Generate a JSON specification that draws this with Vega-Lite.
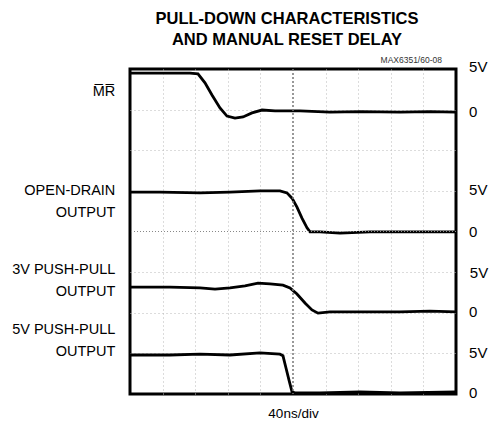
{
  "$schema": "https://vega.github.io/schema/vega-lite/v6.json",
  "width": 326,
  "height": 325,
  "autosize": {"type": "none"},
  "padding": {"left": 130, "top": 69, "right": 33, "bottom": 38},
  "background": "white",
  "config": {
    "view": {"stroke": "black", "strokeWidth": 3},
    "font": "Liberation Sans, Arial, sans-serif"
  },
  "title": {
    "text": ["PULL-DOWN CHARACTERISTICS", "AND MANUAL RESET DELAY"],
    "fontSize": 16.5,
    "fontWeight": "bold",
    "font": "Liberation Sans, Arial, sans-serif",
    "color": "black",
    "anchor": "middle",
    "lineHeight": 21,
    "offset": 8,
    "dx": -6
  },
  "datasets": {
    "traces": [
      {"trace": "MR", "t": 0, "v": 7.9},
      {"trace": "MR", "t": 36.8, "v": 7.9},
      {"trace": "MR", "t": 73.6, "v": 7.9},
      {"trace": "MR", "t": 83.4, "v": 7.88},
      {"trace": "MR", "t": 92, "v": 7.66},
      {"trace": "MR", "t": 100.6, "v": 7.36},
      {"trace": "MR", "t": 110.4, "v": 7.04},
      {"trace": "MR", "t": 119, "v": 6.84},
      {"trace": "MR", "t": 128.8, "v": 6.79},
      {"trace": "MR", "t": 138.7, "v": 6.82},
      {"trace": "MR", "t": 149.7, "v": 6.92},
      {"trace": "MR", "t": 162, "v": 6.99},
      {"trace": "MR", "t": 178, "v": 6.97},
      {"trace": "MR", "t": 208.6, "v": 6.97},
      {"trace": "MR", "t": 245.4, "v": 6.94},
      {"trace": "MR", "t": 282.2, "v": 6.95},
      {"trace": "MR", "t": 331.3, "v": 6.94},
      {"trace": "MR", "t": 368, "v": 6.95},
      {"trace": "MR", "t": 400, "v": 6.94},
      {"trace": "OD", "t": 0, "v": 4.97},
      {"trace": "OD", "t": 36.8, "v": 4.97},
      {"trace": "OD", "t": 85.9, "v": 4.95},
      {"trace": "OD", "t": 122.7, "v": 4.97},
      {"trace": "OD", "t": 159.5, "v": 5.0},
      {"trace": "OD", "t": 184, "v": 5.0},
      {"trace": "OD", "t": 192.6, "v": 4.95},
      {"trace": "OD", "t": 198.8, "v": 4.82},
      {"trace": "OD", "t": 204.9, "v": 4.6},
      {"trace": "OD", "t": 211, "v": 4.33},
      {"trace": "OD", "t": 217.2, "v": 4.09},
      {"trace": "OD", "t": 220.9, "v": 3.99},
      {"trace": "OD", "t": 233.1, "v": 3.99},
      {"trace": "OD", "t": 257.7, "v": 3.96},
      {"trace": "OD", "t": 294.5, "v": 3.99},
      {"trace": "OD", "t": 331.3, "v": 3.99},
      {"trace": "OD", "t": 368, "v": 3.99},
      {"trace": "OD", "t": 400, "v": 3.99},
      {"trace": "PP3", "t": 0, "v": 2.63},
      {"trace": "PP3", "t": 49.1, "v": 2.63},
      {"trace": "PP3", "t": 85.9, "v": 2.61},
      {"trace": "PP3", "t": 104.3, "v": 2.58},
      {"trace": "PP3", "t": 122.7, "v": 2.61},
      {"trace": "PP3", "t": 141.1, "v": 2.66},
      {"trace": "PP3", "t": 157.1, "v": 2.73},
      {"trace": "PP3", "t": 171.8, "v": 2.71},
      {"trace": "PP3", "t": 187.7, "v": 2.68},
      {"trace": "PP3", "t": 196.3, "v": 2.61},
      {"trace": "PP3", "t": 204.9, "v": 2.46},
      {"trace": "PP3", "t": 214.7, "v": 2.24},
      {"trace": "PP3", "t": 223.3, "v": 2.07},
      {"trace": "PP3", "t": 230.7, "v": 1.99},
      {"trace": "PP3", "t": 245.4, "v": 2.02},
      {"trace": "PP3", "t": 282.2, "v": 2.02},
      {"trace": "PP3", "t": 331.3, "v": 2.02},
      {"trace": "PP3", "t": 368, "v": 2.04},
      {"trace": "PP3", "t": 400, "v": 2.02},
      {"trace": "PP5", "t": 0, "v": 0.96},
      {"trace": "PP5", "t": 49.1, "v": 0.96},
      {"trace": "PP5", "t": 85.9, "v": 0.98},
      {"trace": "PP5", "t": 122.7, "v": 0.96},
      {"trace": "PP5", "t": 159.5, "v": 1.01},
      {"trace": "PP5", "t": 184, "v": 0.98},
      {"trace": "PP5", "t": 187.7, "v": 0.94},
      {"trace": "PP5", "t": 191.4, "v": 0.64},
      {"trace": "PP5", "t": 195.1, "v": 0.34},
      {"trace": "PP5", "t": 198.8, "v": 0.05},
      {"trace": "PP5", "t": 202.5, "v": 0.03},
      {"trace": "PP5", "t": 233.1, "v": 0.03},
      {"trace": "PP5", "t": 282.2, "v": 0.05},
      {"trace": "PP5", "t": 331.3, "v": 0.03},
      {"trace": "PP5", "t": 400, "v": 0.05}
    ],
    "leftLabels": [
      {"t": -18, "v": 7.43, "label": "M̅R̅"},
      {"t": -18, "v": 5.0, "label": "OPEN-DRAIN\nOUTPUT"},
      {"t": -18, "v": 3.05, "label": "3V PUSH-PULL\nOUTPUT"},
      {"t": -18, "v": 1.58, "label": "5V PUSH-PULL\nOUTPUT"}
    ],
    "rightLabels": [
      {"t": 416, "v": 8.05, "label": "5V"},
      {"t": 416, "v": 6.94, "label": "0"},
      {"t": 416, "v": 5.02, "label": "5V"},
      {"t": 416, "v": 3.99, "label": "0"},
      {"t": 417, "v": 2.98, "label": "5V"},
      {"t": 416, "v": 2.02, "label": "0"},
      {"t": 416, "v": 1.01, "label": "5V"},
      {"t": 416, "v": 0.02, "label": "0"}
    ],
    "note": [{"t": 382.8, "v": 8.22, "label": "MAX6351/60-08"}],
    "centerX": [{"t": 200}],
    "centerY": [{"v": 4}]
  },
  "layer": [
    {
      "data": {"name": "traces"},
      "mark": {"type": "line", "color": "black", "strokeWidth": 2.8, "clip": false},
      "encoding": {
        "x": {
          "field": "t", "type": "quantitative",
          "scale": {"domain": [0, 400], "nice": false, "zero": false},
          "axis": {
            "values": [40, 80, 120, 160, 240, 280, 320, 360],
            "grid": true, "gridColor": "#b8b8b8", "gridDash": [1, 3], "gridWidth": 1,
            "labels": false, "ticks": false, "domain": false,
            "title": "40ns/div", "titleFontSize": 13.5, "titleFontWeight": "normal",
            "titleColor": "black", "titlePadding": 12,
            "titleFont": "Liberation Sans, Arial, sans-serif"
          }
        },
        "y": {
          "field": "v", "type": "quantitative",
          "scale": {"domain": [0, 8], "nice": false, "zero": false},
          "axis": {
            "values": [1, 2, 3, 5, 6, 7],
            "grid": true, "gridColor": "#b8b8b8", "gridDash": [1, 3], "gridWidth": 1,
            "labels": false, "ticks": false, "domain": false, "title": null
          }
        },
        "detail": {"field": "trace", "type": "nominal"}
      }
    },
    {
      "data": {"name": "centerX"},
      "mark": {"type": "rule", "color": "#777", "strokeDash": [2, 2], "strokeWidth": 1.5},
      "encoding": {
        "x": {"field": "t", "type": "quantitative"}
      }
    },
    {
      "data": {"name": "centerY"},
      "mark": {"type": "rule", "color": "#888", "strokeDash": [1, 2], "strokeWidth": 1.2},
      "encoding": {
        "y": {"field": "v", "type": "quantitative"}
      }
    },
    {
      "data": {"name": "leftLabels"},
      "mark": {"type": "text", "align": "right", "baseline": "middle", "fontSize": 14.5, "lineHeight": 22, "lineBreak": "\n", "color": "black"},
      "encoding": {
        "x": {"field": "t", "type": "quantitative"},
        "y": {"field": "v", "type": "quantitative"},
        "text": {"field": "label"}
      }
    },
    {
      "data": {"name": "rightLabels"},
      "mark": {"type": "text", "align": "left", "baseline": "middle", "fontSize": 15, "color": "black"},
      "encoding": {
        "x": {"field": "t", "type": "quantitative"},
        "y": {"field": "v", "type": "quantitative"},
        "text": {"field": "label"}
      }
    },
    {
      "data": {"name": "note"},
      "mark": {"type": "text", "align": "right", "baseline": "middle", "fontSize": 8.5, "color": "#333"},
      "encoding": {
        "x": {"field": "t", "type": "quantitative"},
        "y": {"field": "v", "type": "quantitative"},
        "text": {"field": "label"}
      }
    }
  ]
}
